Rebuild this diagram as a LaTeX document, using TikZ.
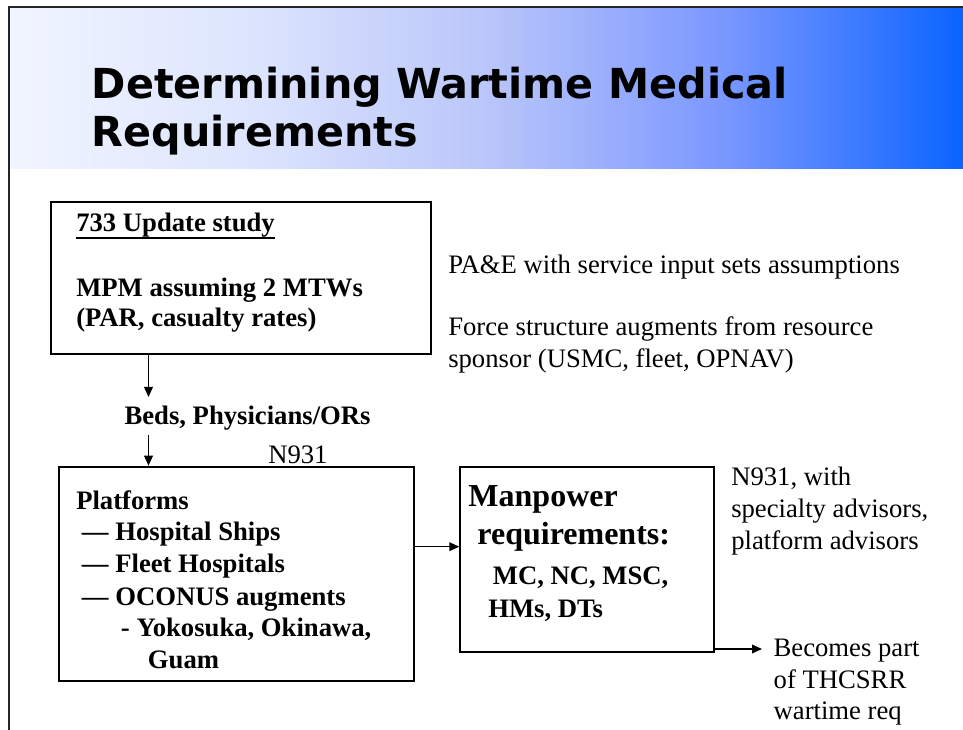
\documentclass[tikz,border=0pt]{standalone}
\usepackage{fontspec}
\setmainfont{Liberation Serif}
\newfontfamily\titlefont{DejaVu Sans}
\usetikzlibrary{arrows.meta,fit}
\definecolor{shA}{RGB}{240,245,255}
\definecolor{shB}{RGB}{221,229,253}
\definecolor{shC}{RGB}{186,198,250}
\definecolor{shD}{RGB}{122,151,255}
\definecolor{shE}{RGB}{10,100,255}
\pgfdeclarehorizontalshading{bandshade}{100bp}{color(0bp)=(shA); color(25bp)=(shA); color(37.5bp)=(shB); color(50bp)=(shC); color(62.5bp)=(shD); color(75bp)=(shE); color(100bp)=(shE)}
\begin{document}
\begin{tikzpicture}[x=0.75pt,y=-0.75pt,
  boxstyle/.style={draw, line width=1.5pt, inner sep=0pt},
  lbl/.style={anchor=base west, inner sep=0pt, font=\fontsize{20}{24}\selectfont},
  blbl/.style={anchor=base west, inner sep=0pt, font=\fontsize{20}{24}\selectfont\bfseries},
  biglbl/.style={anchor=base west, inner sep=0pt, font=\fontsize{24}{28}\selectfont\bfseries},
  titlelbl/.style={anchor=base west, inner sep=0pt, font=\titlefont\bfseries\fontsize{31}{36}\selectfont},
  conn/.style={line width=1.1pt, -{Triangle[length=7.5pt,width=6.5pt]}}]
\useasboundingbox (0,0) rectangle (963,730);
% slide background
\fill[white] (0,0) rectangle (963,730);
\shade[shading=bandshade] (10,9) rectangle (963,168.3);
\draw[line width=1.4pt, black!85] (9,730) -- (9,7) -- (963,7);
% title
\node[titlelbl] (title1) at (91.5,98.5) {Determining Wartime Medical};
\node[titlelbl] (title2) at (91.5,146.5) {Requirements};
% boxes
\node[boxstyle, fit={(50.7,201.7) (431,354.3)}] (box1) {};
\node[boxstyle, fit={(59,466.7) (414.3,680.7)}] (box2) {};
\node[boxstyle, fit={(460.3,466.7) (713.5,652)}] (box3) {};
% box1 text
\node[blbl] (t733) at (76,231.7) {733 Update study};
\draw[line width=1.5pt] ([yshift=-4.8pt]t733.base west) -- ([yshift=-4.8pt]t733.base east);
\node[blbl] (mpm) at (76,296.7) {MPM assuming 2 MTWs};
\node[blbl] (par) at (76,327) {(PAR, casualty rates)};
% middle labels
\node[blbl] (beds) at (124.3,424.3) {Beds, Physicians/ORs};
\node[lbl] (n931) at (268,463.5) {N931};
% box2 text
\node[blbl] (plat) at (76,509.3) {Platforms};
\node[blbl] (hosp) at (81.7,540.7) {— Hospital Ships};
\node[blbl] (fleet) at (81.7,572.7) {— Fleet Hospitals};
\node[blbl] (ocon) at (81.7,605) {— OCONUS augments};
\node[blbl] (yoko) at (120.7,636.7) {- Yokosuka, Okinawa,};
\node[blbl] (guam) at (147.7,668.3) {Guam};
% box3 text
\node[biglbl] (manp) at (468.2,506.7) {Manpower};
\node[biglbl] (reqs) at (477.2,544.3) {requirements:};
\node[blbl] (mcnc) at (492.6,584) {MC, NC, MSC,};
\node[blbl] (hms) at (488,617.3) {HMs, DTs};
% right side texts
\node[lbl] (pae) at (448,273.3) {PA\&E with service input sets assumptions};
\node[lbl] (force) at (448,336) {Force structure augments from resource};
\node[lbl] (spons) at (448,367.7) {sponsor (USMC, fleet, OPNAV)};
\node[lbl] (nwith) at (731,485.7) {N931, with};
\node[lbl] (spec) at (731,517.3) {specialty advisors,};
\node[lbl] (platadv) at (731,549.3) {platform advisors};
\node[lbl] (becomes) at (773.4,656.7) {Becomes part};
\node[lbl] (ofth) at (773.4,688.3) {of THCSRR};
\node[lbl] (wreq) at (773.4,719.3) {wartime req};
% connectors
\coordinate (a1) at (148.5,397);
\coordinate (a2) at (148.5,435);
\coordinate (a3) at (0,546.7);
\coordinate (a4) at (762,649);
\draw[conn] (box1.south -| a1) -- (a1);
\draw[conn] (a2) -- (box2.north -| a2);
\draw[conn] (box2.east |- a3) -- (box3.west |- a3);
\draw[conn] (box3.east |- a4) -- (a4);
\end{tikzpicture}
\end{document}
